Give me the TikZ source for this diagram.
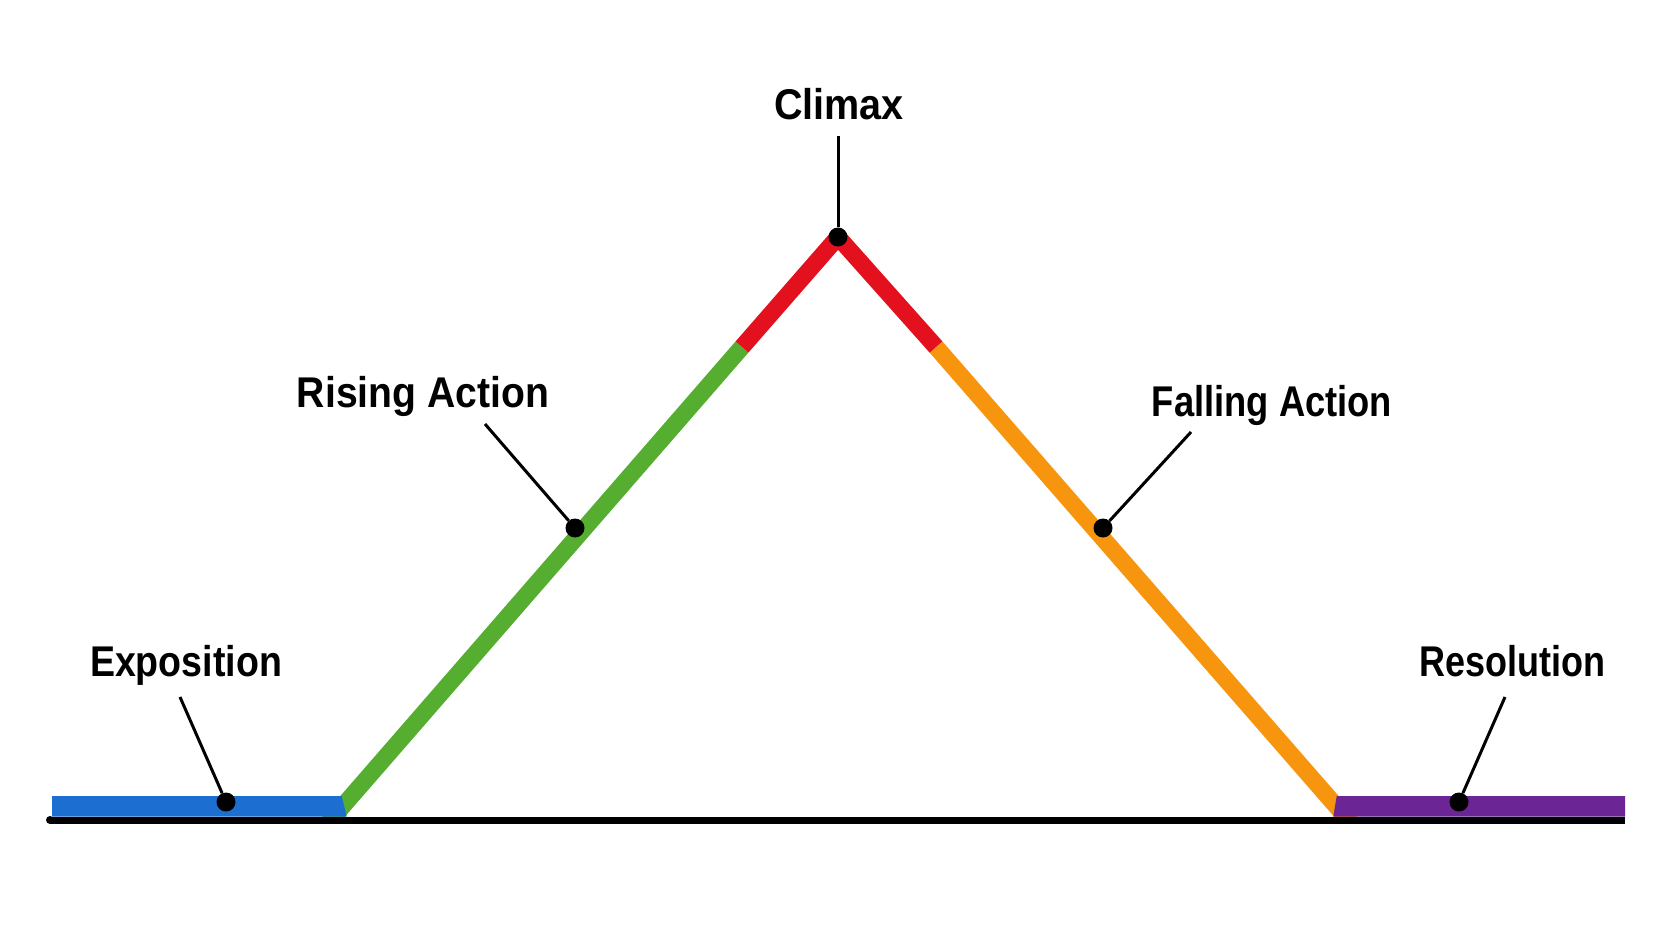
\documentclass[tikz,border=0pt]{standalone}
\usepackage{fontspec}
\setmainfont{Liberation Sans}
\definecolor{cblue}{HTML}{1C6FD1}
\definecolor{cgreen}{HTML}{56AE30}
\definecolor{cred}{HTML}{E3101E}
\definecolor{corange}{HTML}{F7950F}
\definecolor{cpurple}{HTML}{6C2594}
\tikzset{
  lbl/.style={font=\fontsize{43}{50}\selectfont\bfseries, anchor=base, inner sep=0pt, text=black},
  seg/.style={line width=17pt, line cap=butt},
  leader/.style={line width=3pt, black},
  dotnode/.style={circle, fill=black, inner sep=0pt, minimum size=19pt}
}
\begin{document}
\begin{tikzpicture}[x=1pt, y=-1pt]
\useasboundingbox (0,0) rectangle (1672,941);
\fill[white] (0,0) rectangle (1672,941);
% key points of the arc
\coordinate (gbot) at (325.5,826);
\coordinate (gr) at (742,347);
\coordinate (apex) at (838,237);
\coordinate (ro) at (936,347);
\coordinate (obot) at (1353.5,826);
% green and orange, clipped above baseline
\begin{scope}
\clip (0,0) rectangle (1672,816.5);
\draw[seg, cgreen] (gbot) -- (gr);
\draw[seg, corange] (ro) -- (obot);
\end{scope}
\draw[seg, cred, line join=round] (gr) -- (apex) -- (ro);
% exposition and resolution bars
\fill[cblue] (52,796) -- (341.7,796) -- (346.7,816.5) -- (52,816.5) -- cycle;
\fill[cpurple] (1336.7,796) -- (1625,796) -- (1625,816.5) -- (1333.3,816.5) -- cycle;
% baseline
\coordinate (bl) at (50,820);
\coordinate (br) at (1625,820);
\draw[line width=7pt, black] (bl) -- (br);
\fill[black] (bl) circle (4pt);
% labels
\node[lbl, xscale=0.92] (lclimax) at (839,120) {Climax};
\node[lbl, xscale=0.91] (lrising) at (423,407) {Rising Action};
\node[lbl, xscale=0.845] (lfalling) at (1272,416) {Falling Action};
\node[lbl, xscale=0.873] (lexpo) at (186,676) {Exposition};
\node[lbl, xscale=0.837] (lres) at (1512,676) {Resolution};
% leader start points
\coordinate (sclimax) at (838,136);
\coordinate (srising) at (485,424);
\coordinate (sfalling) at (1191,432);
\coordinate (sexpo) at (180,697);
\coordinate (sres) at (1505,697);
% dots
\node[dotnode] (dclimax) at (838,237) {};
\node[dotnode] (drising) at (575,528) {};
\node[dotnode] (dfalling) at (1103,528) {};
\node[dotnode] (dexpo) at (226,802) {};
\node[dotnode] (dres) at (1459,802) {};
% leaders
\draw[leader] (sclimax) -- (dclimax);
\draw[leader] (srising) -- (drising);
\draw[leader] (sfalling) -- (dfalling);
\draw[leader] (sexpo) -- (dexpo);
\draw[leader] (sres) -- (dres);
\end{tikzpicture}
\end{document}
